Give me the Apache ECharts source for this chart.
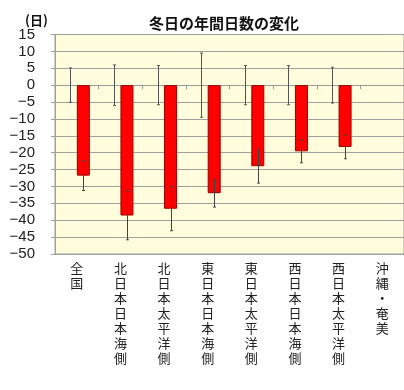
<!DOCTYPE html>
<html><head><meta charset="utf-8">
<script src="https://cdn.jsdelivr.net/npm/echarts@6/dist/echarts.min.js"></script>
<style>html,body{margin:0;padding:0;background:#fff}#c{width:404px;height:390px}</style>
</head><body><div id="c"></div>
<script>
var categories = ['全国','北日本日本海側','北日本太平洋側','東日本日本海側','東日本太平洋側','西日本日本海側','西日本太平洋側','沖縄・奄美'];
var presentValues = [0, 0, 0, 0, 0, 0, 0, null];
var presentErr = [5.1, 6.0, 5.8, 9.5, 5.8, 5.8, 5.3, null];
var changeValues = [-26.8, -38.6, -36.6, -32.0, -24.0, -19.6, -18.3, null];
var changeErr = [4.4, 7.2, 6.5, 4.1, 5.0, 3.4, 3.5, null];
var yTicks = [15, 10, 5, 0, -5, -10, -15, -20, -25, -30, -35, -40, -45, -50];

var chart = echarts.init(document.getElementById('c'));
var BW = 13;
function errSeries(vals, errs, off, color) {
  var d = [];
  for (var i = 0; i < vals.length; i++) if (vals[i] !== null && errs[i] !== null) d.push([i, vals[i], errs[i]]);
  return {
    type: 'custom', z: 5,
    data: d,
    renderItem: function (params, api) {
      var i = api.value(0), v = api.value(1), e = api.value(2);
      var pTop = api.coord([i, v + e]);
      var pBot = api.coord([i, v - e]);
      var x = Math.round(pTop[0] + off) + 0.5;
      var st = {stroke: color, lineWidth: 1};
      return {type: 'group', children: [
        {type: 'line', shape: {x1: x, y1: pTop[1], x2: x, y2: pBot[1]}, style: st},
        {type: 'line', shape: {x1: x - 1.5, y1: pTop[1], x2: x + 1.5, y2: pTop[1]}, style: st},
        {type: 'line', shape: {x1: x - 1.5, y1: pBot[1], x2: x + 1.5, y2: pBot[1]}, style: st}
      ]};
    }
  };
}
chart.setOption({
  animation: false,
  backgroundColor: '#ffffff',
  title: [
    {text: '冬日の年間日数の変化', left: 219, textAlign: 'center', top: 11,
     textStyle: {fontSize: 15, fontWeight: 'bold', color: '#111', fontFamily: 'Noto Sans CJK JP'}},
    {text: '(日)', left: 20, top: 9,
     textStyle: {fontSize: 13, fontWeight: 'bold', color: '#111', fontFamily: 'Noto Sans CJK JP'}}
  ],
  grid: {left: 55, top: 34.5, width: 357, height: 219.5, show: true, backgroundColor: '#FFFDDC', borderColor: '#A0A0A0', borderWidth: 1},
  xAxis: [
    {type: 'category', data: categories, position: 'bottom',
     axisLine: {show: true, onZero: false, lineStyle: {color: '#A0A0A0'}},
     axisTick: {show: false},
     axisLabel: {interval: 0, margin: 7, color: '#222', fontSize: 13, lineHeight: 15,
       fontFamily: 'Noto Sans CJK JP', verticalAlign: 'top',
       formatter: function (s) { return s.split('').join('\n'); }}},
    {type: 'category', data: categories, position: 'bottom',
     axisLine: {show: true, onZero: true, onZeroAxisIndex: 0, lineStyle: {color: '#999'}},
     axisTick: {show: true, interval: 0, length: 4, lineStyle: {color: '#999'}},
     axisLabel: {show: false, interval: 0}}
  ],
  yAxis: {type: 'value', min: -50, max: 15, interval: 5,
    axisLine: {show: true, lineStyle: {color: '#A0A0A0'}},
    axisTick: {show: true, length: 4, lineStyle: {color: '#A0A0A0'}},
    splitLine: {show: true, lineStyle: {color: '#A0A0A0', width: 1}},
    axisLabel: {color: '#222', fontSize: 15, margin: 20, fontFamily: 'Liberation Sans',
      formatter: function (v) { return yTicks.indexOf(v) >= 0 ? (v < 0 ? '\u2212' + (-v) : String(v)) : ''; }}},
  series: [
    {type: 'bar', data: presentValues, barWidth: BW, barGap: '0%', barCategoryGap: '41%',
     itemStyle: {color: 'rgba(0,0,0,0)'}, xAxisIndex: 0},
    {type: 'bar', data: changeValues, barWidth: BW, barGap: '0%', xAxisIndex: 0,
     itemStyle: {color: '#FF0000', borderColor: '#990000', borderWidth: 1}},
    errSeries(presentValues, presentErr, -6.5, '#555'),
    errSeries(changeValues, changeErr, 6.5, '#444')
  ]
});
</script></body></html>
